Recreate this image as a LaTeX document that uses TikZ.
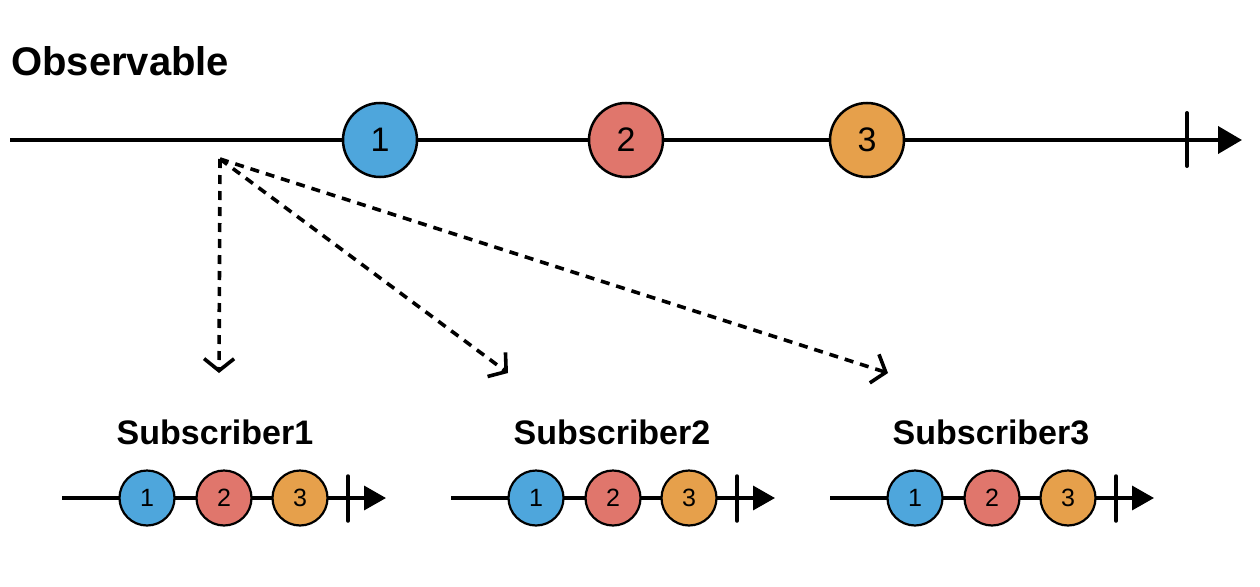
\documentclass[tikz,border=0pt]{standalone}
\usepackage{fontspec}
\setmainfont{Liberation Sans}
\usetikzlibrary{arrows.meta}
\definecolor{cblue}{RGB}{78,166,220}
\definecolor{cred}{RGB}{224,118,108}
\definecolor{corange}{RGB}{230,160,75}
\begin{document}
\begin{tikzpicture}[x=1pt,y=-1pt,
  bigball/.style={circle,draw=black,line width=2.5pt,minimum size=74pt,inner sep=0pt,font=\fontsize{34}{34}\selectfont},
  smallball/.style={circle,draw=black,line width=2.2pt,minimum size=55pt,inner sep=0pt,font=\fontsize{25}{25}\selectfont},
  mainline/.style={line width=4pt,-{Triangle[length=24pt,width=27pt]}},
  subline/.style={line width=3.5pt,-{Triangle[length=22pt,width=24pt]}},
  tickmark/.style={line width=4pt,line cap=round},
  subtick/.style={line width=3.5pt,line cap=round},
  dasharrow/.style={line width=3.6pt,dash pattern=on 9pt off 7pt,-{Straight Barb[length=12pt,width=30pt,line width=3.6pt]}},
  title/.style={font=\bfseries\fontsize{40}{40}\selectfont},
  sublabel/.style={font=\bfseries\fontsize{34}{34}\selectfont}]
\useasboundingbox (0,0) rectangle (1260,586);
% Observable
\node[title,anchor=base west,inner sep=0pt] (obs) at (11,75) {Observable};
\coordinate (ms) at (10,140);
\coordinate (me) at (1242,140);
\draw[mainline] (ms) -- (me);
\coordinate (mt1) at (1187,113);
\coordinate (mt2) at (1187,166);
\draw[tickmark] (mt1) -- (mt2);
\node[bigball,fill=cblue] (b1) at (380,140) {1};
\node[bigball,fill=cred] (b2) at (626,140) {2};
\node[bigball,fill=corange] (b3) at (867,140) {3};
% dashed arrows
\coordinate (src) at (220,159);
\coordinate (t1) at (219,373);
\coordinate (t2) at (508,373);
\coordinate (t3) at (888,373);
\draw[dasharrow] (src) -- (t1);
\draw[dasharrow] (src) -- (t2);
\draw[dasharrow] (src) -- (t3);
% subscribers
\foreach \i/\dx/\lx in {1/0/215,2/389/612,3/768/991}{
  \node[sublabel,anchor=base,inner sep=0pt] (lab\i) at (\lx,444) {Subscriber\i};
  \coordinate (s\i a) at (62+\dx,498);
  \coordinate (s\i b) at (386+\dx,498);
  \draw[subline] (s\i a) -- (s\i b);
  \coordinate (s\i t1) at (348+\dx,476);
  \coordinate (s\i t2) at (348+\dx,521);
  \draw[subtick] (s\i t1) -- (s\i t2);
  \node[smallball,fill=cblue] (s\i c1) at (147+\dx,498) {1};
  \node[smallball,fill=cred] (s\i c2) at (224+\dx,498) {2};
  \node[smallball,fill=corange] (s\i c3) at (300+\dx,498) {3};
}
\end{tikzpicture}
\end{document}
